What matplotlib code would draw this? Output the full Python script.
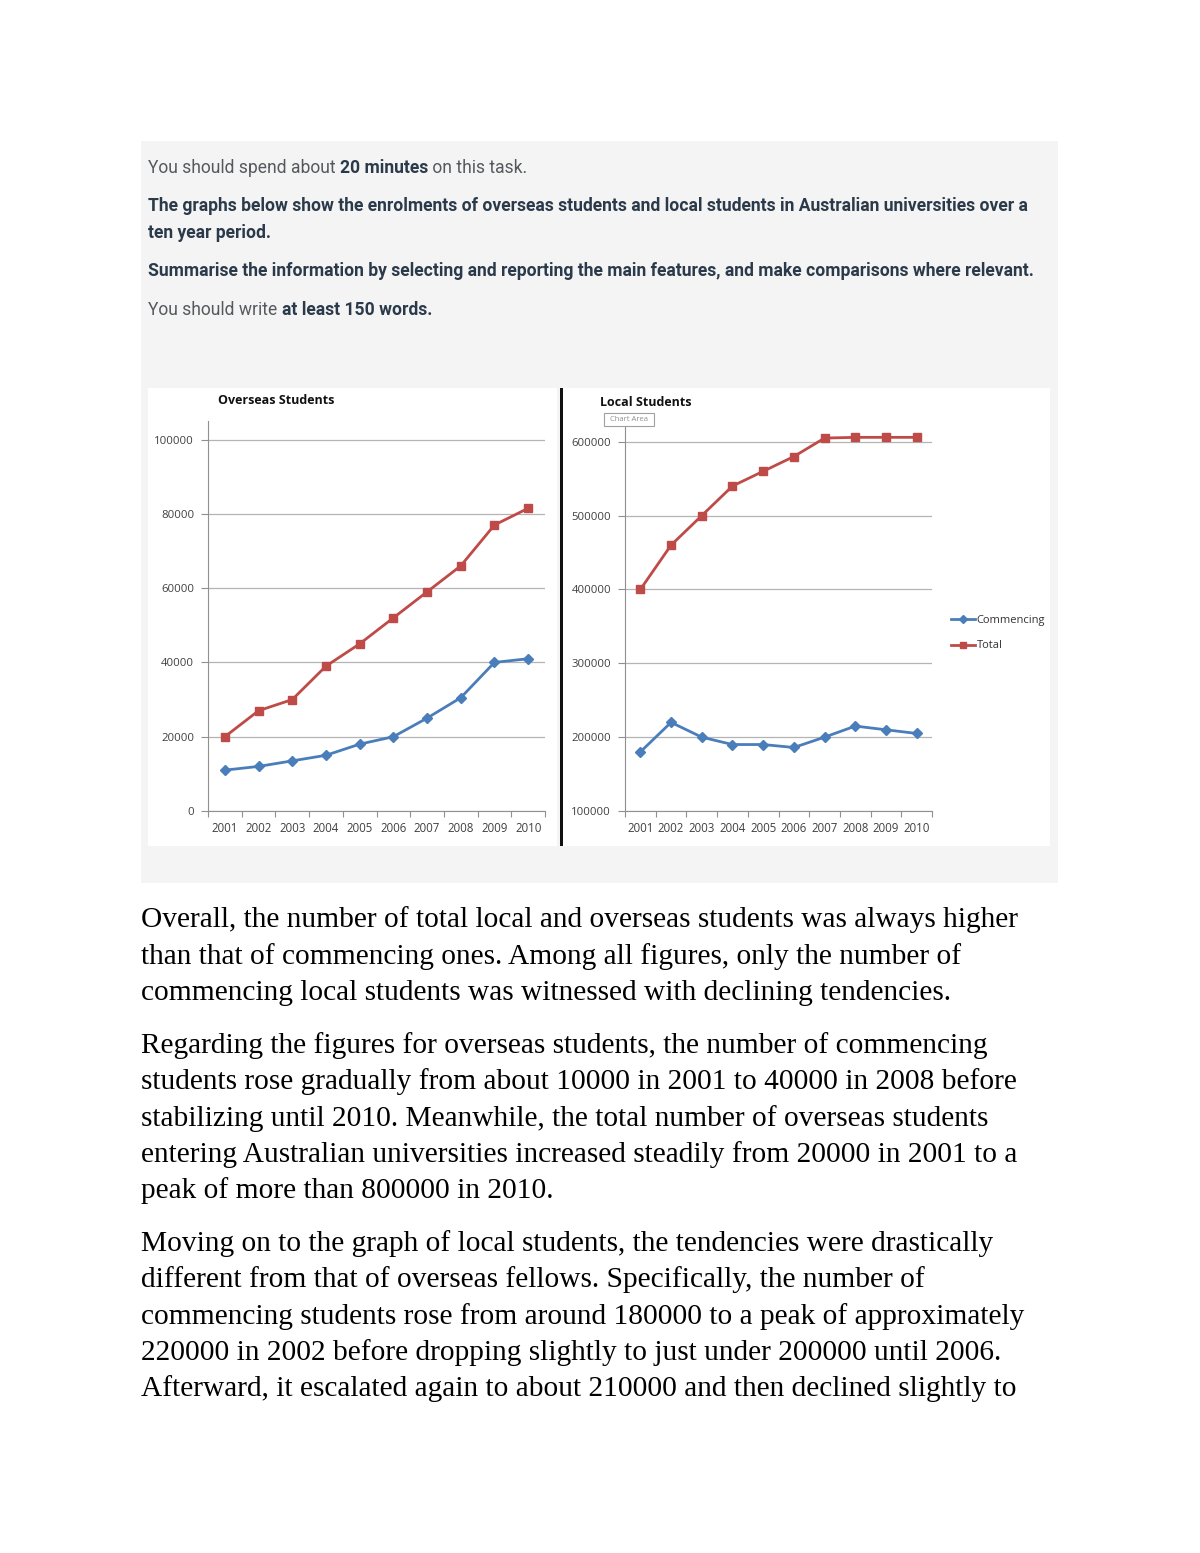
import matplotlib
matplotlib.use("Agg")
import matplotlib.pyplot as plt
from matplotlib.patches import Rectangle
from matplotlib.lines import Line2D

W, H = 1200, 1553

years = ["2001", "2002", "2003", "2004", "2005", "2006", "2007", "2008", "2009", "2010"]
overseas_commencing = [11000, 12000, 13500, 15000, 18000, 20000, 25000, 30500, 40000, 41000]
overseas_total = [20000, 27000, 30000, 39000, 45000, 52000, 59000, 66000, 77000, 81500]
local_commencing = [180000, 220000, 200000, 190000, 190000, 186000, 200000, 215000, 210000, 205000]
local_total = [400000, 460000, 500000, 540000, 560000, 580000, 605000, 606000, 606000, 606000]

header_lines = [
    [("You should spend about ", "normal"), ("20 minutes", "bold"), (" on this task.", "normal")],
    [("The graphs below show the enrolments of overseas students and local students in Australian universities over a", "bold")],
    [("ten year period.", "bold")],
    [("Summarise the information by selecting and reporting the main features, and make comparisons where relevant.", "bold")],
    [("You should write ", "normal"), ("at least 150 words.", "bold")],
]
header_y = [168, 206, 233, 271, 310]

body_lines = [
    "Overall, the number of total local and overseas students was always higher",
    "than that of commencing ones. Among all figures, only the number of",
    "commencing local students was witnessed with declining tendencies.",
    "Regarding the figures for overseas students, the number of commencing",
    "students rose gradually from about 10000 in 2001 to 40000 in 2008 before",
    "stabilizing until 2010. Meanwhile, the total number of overseas students",
    "entering Australian universities increased steadily from 20000 in 2001 to a",
    "peak of more than 800000 in 2010.",
    "Moving on to the graph of local students, the tendencies were drastically",
    "different from that of overseas fellows. Specifically, the number of",
    "commencing students rose from around 180000 to a peak of approximately",
    "220000 in 2002 before dropping slightly to just under 200000 until 2006.",
    "Afterward, it escalated again to about 210000 and then declined slightly to",
]
body_y = [920, 957, 993, 1046, 1082, 1119, 1155, 1191, 1244, 1280, 1317, 1353, 1389]

BLUE = "#4a7ebb"
RED = "#be4b48"
GRID = "#b4b4b4"
TICK = "#404040"


def fx(x):
    return x / W


def fy(y):
    return 1 - y / H


def box(fig, x0, y0, x1, y1, zorder=-5, **kw):
    fig.patches.append(Rectangle((fx(x0), fy(y1)), (x1 - x0) / W, (y1 - y0) / H,
                                 transform=fig.transFigure, zorder=zorder, **kw))


def axes_px(fig, x0, y0, x1, y1):
    return fig.add_axes([fx(x0), fy(y1), (x1 - x0) / W, (y1 - y0) / H])


def style_chart(ax, ymin, ymax, yticks):
    x = range(1, len(years) + 1)
    ax.set_xlim(0.5, len(years) + 0.5)
    ax.set_ylim(ymin, ymax)
    ax.set_xticks(list(x))
    ax.set_xticklabels(years)
    ax.set_xticks([i + 0.5 for i in range(len(years) + 1)], minor=True)
    ax.set_yticks(yticks)
    ax.set_yticklabels([str(v) for v in yticks])
    ax.tick_params(axis="x", which="major", length=0, pad=8, labelsize=8.3, labelcolor=TICK)
    ax.tick_params(axis="x", which="minor", length=4, color="#909090", width=0.8)
    ax.tick_params(axis="y", length=5, color="#909090", width=0.8, labelsize=8.2,
                   labelcolor=TICK, pad=5)
    for lab in ax.get_xticklabels() + ax.get_yticklabels():
        lab.set_fontfamily("Open Sans")
    ax.grid(axis="y", color=GRID, linewidth=0.9)
    ax.set_axisbelow(True)
    for s in ("top", "right"):
        ax.spines[s].set_visible(False)
    for s in ("left", "bottom"):
        ax.spines[s].set_color("#909090")
        ax.spines[s].set_linewidth(0.8)
    ax.set_facecolor("none")


def plot_series(ax, commencing, total):
    x = range(1, len(years) + 1)
    ax.plot(x, commencing, color=BLUE, lw=2, marker="D", ms=5.5, label="Commencing")
    ax.plot(x, total, color=RED, lw=2, marker="s", ms=5.5, label="Total")


def main():
    fig = plt.figure(figsize=(W / 100, H / 100), dpi=100)
    fig.patch.set_facecolor("white")

    # grey task panel and the two white chart boxes
    box(fig, 141, 141, 1058, 883, zorder=-10, facecolor="#f4f4f4", edgecolor="none")
    box(fig, 148, 388, 557, 846, facecolor="white", edgecolor="none")
    box(fig, 563, 388, 1050, 846, facecolor="white", edgecolor="none")
    box(fig, 560, 388, 563, 846, facecolor="#111111", edgecolor="none")

    # header text, mixed weights placed piece by piece
    renderer = fig.canvas.get_renderer()
    for pieces, y in zip(header_lines, header_y):
        x = fx(148)
        for txt, weight in pieces:
            color = "#2b3a4a" if weight == "bold" else "#55595e"
            t = fig.text(x, fy(y), txt, fontsize=12.65, fontfamily="Roboto",
                         fontweight=weight, color=color, va="center", ha="left")
            bb = t.get_window_extent(renderer)
            x += bb.width / W

    # overseas chart
    ax1 = axes_px(fig, 208, 421, 545, 811)
    plot_series(ax1, overseas_commencing, overseas_total)
    style_chart(ax1, 0, 105000, [0, 20000, 40000, 60000, 80000, 100000])
    fig.text(fx(218), fy(400), "Overseas Students", fontsize=9, fontweight="bold",
             fontfamily="Open Sans", va="center", ha="left", color="#111111")

    # local chart
    ax2 = axes_px(fig, 625, 427, 932, 811)
    plot_series(ax2, local_commencing, local_total)
    style_chart(ax2, 100000, 620000, [100000, 200000, 300000, 400000, 500000, 600000])
    fig.text(fx(600), fy(403), "Local Students", fontsize=9, fontweight="bold",
             fontfamily="Open Sans", va="center", ha="left", color="#111111")
    box(fig, 604, 413, 654, 426, zorder=2, facecolor="white", edgecolor="#a0a0a0",
        linewidth=0.8)
    fig.text(fx(629), fy(419.5), "Chart Area", fontsize=5.5, fontfamily="Open Sans",
             va="center", ha="center", color="#909090", zorder=3)

    handles = [Line2D([], [], color=BLUE, lw=2, marker="D", ms=4.5),
               Line2D([], [], color=RED, lw=2, marker="s", ms=4.5)]
    fig.legend(handles, ["Commencing", "Total"], loc="upper left",
               bbox_to_anchor=(fx(941), fy(605)), frameon=False,
               prop={"family": "Open Sans", "size": 8}, handlelength=2.2,
               handletextpad=0.1, labelspacing=1.3, labelcolor="#333333")

    # essay text
    for line, y in zip(body_lines, body_y):
        fig.text(fx(141), fy(y), line, fontsize=21.2, fontfamily="Liberation Serif",
                 va="center", ha="left", color="black")

    fig.savefig("out.png", dpi=100)
    plt.close(fig)


if __name__ == "__main__":
    main()
